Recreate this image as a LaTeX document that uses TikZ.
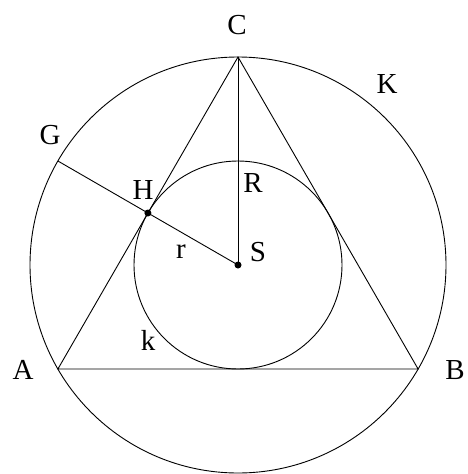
\documentclass[tikz,border=0pt]{standalone}
\usepackage{fontspec}
\setmainfont{Liberation Serif}
\usepackage{tikz}
\usetikzlibrary{calc}

\begin{document}
\begin{tikzpicture}[
  x=1pt, y=-1pt,
  line/.style={black, line width=0.9pt},
  dot/.style={circle, fill=black, inner sep=0pt, minimum size=7pt},
  lbl/.style={inner sep=0pt, font=\fontsize{29}{32}\selectfont}
]
\useasboundingbox (0,0) rectangle (467,474);
% points
\coordinate (S) at (238,265);
\coordinate (C) at (238,57);
\coordinate (A) at (57.9,369);
\coordinate (B) at (418.1,369);
\coordinate (G) at (57.9,161);
\node[dot] (Hd) at (147.9,213) {};
\node[dot] (Sd) at (S) {};

% circles
\draw[line] (S) circle[radius=208];
\draw[line] (S) circle[radius=104];

% triangle and radii
\draw[line] (A) -- (B) -- (C) -- cycle;
\draw[line] (C) -- (Sd.center);
\draw[line] (G) -- (Hd.center) -- (Sd.center);

% labels
\node[lbl] (lC) at (237,25) {C};
\node[lbl] (lK) at (387,84) {K};
\node[lbl] (lG) at (50,135) {G};
\node[lbl] (lH) at (143,190) {H};
\node[lbl] (lR) at (253,183) {R};
\node[lbl] (lr) at (181,252) {r};
\node[lbl] (lS) at (258,252) {S};
\node[lbl] (lk) at (148,340) {k};
\node[lbl] (lA) at (23,370) {A};
\node[lbl] (lB) at (455,370) {B};
\end{tikzpicture}
\end{document}
